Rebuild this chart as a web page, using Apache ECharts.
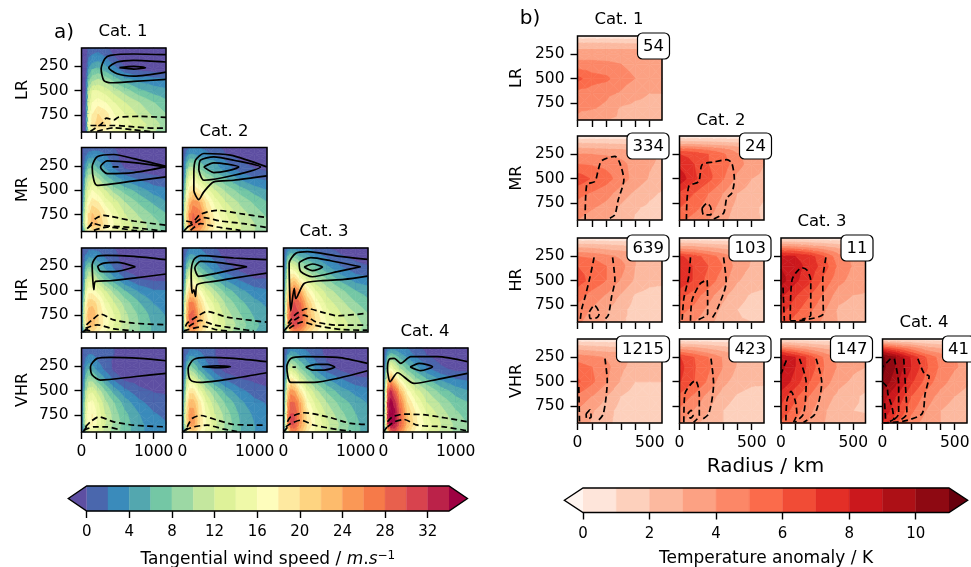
<!DOCTYPE html>
<html><head><meta charset="utf-8">
<script src="https://cdn.jsdelivr.net/npm/echarts@6/dist/echarts.min.js"></script>
<style>html,body{margin:0;padding:0;background:#fff}#c{width:971px;height:567px}</style>
</head><body><div id="c"></div>
<script>
// ---------- axes of the gridded fields ----------
const windRadius=[0,30,60,100,150,230,330,450,600,800,1000,1170];
const windLevelsP=[60,130,200,280,380,500,620,740,850,925];
const tempRadius=[0,100,200,300,400,500,585];
const tempLevelsP=[60,100,150,200,250,350,500,650,800,925];
const rowNames=['LR','MR','HR','VHR'];
const catNames=['Cat. 1','Cat. 2','Cat. 3','Cat. 4'];
// ---------- tangential wind (m/s), rows = pressure, cols = radius ----------
const wLR1=[[-1,-1,-1,.5,1,1,.5,-1,-1,-1,-1,-1],[-1,-1,-1,1.5,2,2.5,1.5,-.2,-2,-2,-2,-2],[-1,-1,-1,2.5,3.5,4,3,1,-1,-2,-2,-2],[-1,-1,-.5,4,6,6.5,5,3,.5,-.5,-1,-1],[-1,-1,0,7,9,10,9,7,4.5,3,2.5,2],[-1,-1,0,11,14,14,13,11,9,6.5,5,4.5],[-1,-1,0,13,16,17,16,14,12,10,8,6.5],[-1,-1,0,15,18,20,19,16,14,11.5,9.5,8],[-1,-1,0,16,19,21,20,17,15,13,11,9],[-1,-1,0,12,16,18,17,15,13,12,10,9]];
const wMR1=[[-1,0,.5,1,1,1.5,1,0,-1,-1,-1,-1],[-1,.5,1.5,2.5,3,2.5,2,.5,-1,-2,-2,-2],[-1,1,3,5,5,4,3,1,-1,-2,-2,-2],[-1,1.5,5,8,8,6,4,2,0,-1,-1,-1],[-.5,2.5,8,11,12,10,7,5,3,1.5,.5,0],[-.5,4,11,14,16,14.5,12,9,7,5,3,2.5],[-.5,6,13,17,19,18,15,13,10,7.5,5.5,4],[-.5,8,15,20,22,21,18,15,12,9.5,7.5,6],[-.5,10,16,21,23,22,19,16,13,11,9,7],[-.5,5,11,16,19,19,17,15,13,11,9,7]];
const wMR2=[[-1,0,1,2,2,2,1.5,.5,-.5,-1,-1,-1],[-1,1,3,4,4,3,2.5,1.5,0,-1,-2,-2],[-1,2,5,7,7,6,4.5,4,2,0,-1,-1],[-1,3,8,11,11,8,6,5,3,1,0,-.5],[-.5,4,11,15,16,13,10,8,6,3.5,2,1.5],[0,7,15,19,20,18,15,12,9.5,7,5,4],[0,10,18,23,25,24,19,15,12,9.5,7.5,6],[0,12,20,26,28,27,21,17,14,11,9,7.5],[0,12,20,27,29,27,22,18,15,12,10,8.5],[0,6,14,21,25,24,20,17,14,12,10,8.5]];
const wHR1=[[-1,0,1,1.5,1.5,1.5,1,0,-1,-1,-1,-1],[-1,1,2,3,3,2.5,1.5,.5,-1,-2,-2,-2],[-1,1.5,4,5.5,5,4,2.5,1,-1,-2,-2,-2],[-1,2,7,9,8.5,6,4,2,-.5,-1.5,-2,-2],[-.5,3,10,13,13,10,7,4.5,2,0,-.5,-.5],[0,5,14,17,17,15,12,9,6,3.5,2.2,2],[0,8,17,21,21,19,15,12,9,6,3.8,3],[0,10,19,23,24,20,17,14,10.5,7.5,5,3.8],[0,10,19,23,23,20,17,14,11,8,5.5,4.5],[0,4,12,18,20,18,16,13,10.5,8,5.5,4.5]];
const wHR2=[[-1,0,1,2,2,2,1,0,-1,-1,-1,-1],[-1,1,2.5,4,4,3,2,1,-1,-2,-2,-2],[-1,1.5,5,7,6.5,4.5,3,2,0,-1.5,-2,-2],[-1,2.5,8,11,10,7,5,3,1,-.5,-1.5,-1.5],[-.5,4,12,16,15,11,8,6,3.5,1.5,0,0],[0,7,17,21,21,17,13,10,7,4.5,2.8,2.2],[0,11,21,26,26,21,16,13,9.5,6.5,4.5,3.5],[0,13,23,28,29,23,18,14.5,11,8,5.5,4.5],[0,13,23,28,28,23,19,15,12,9,6.5,5],[0,6,15,23,24,21,17,14,11,8.5,6,5]];
const wHR3=[[0,1,2,3,3,2.5,2,1,0,-.5,-1,-1],[0,2,5,7,6,5,4,2.5,1,0,-1,-1.5],[0,3,9,11,10,8,6.5,5,3,1,0,-.5],[0,4,12,16,15,11,9,7,5,2.5,1,.5],[0,6,15,20,21,17,13,10,8,5,3,2.5],[0,8,19,25,27,24,18,14,11,8.5,6,5],[0,11,23,28,30,28,22,17,13,10.5,8,6.5],[0,12,25,30,31,30,24,19,15,12,10,8],[0,11,24,29,31,29,24,20,16,13,11,9],[0,5,15,23,26,25,21,18,15,12.5,10.5,9]];
const wVHR1=[[-1,0,.5,1,1,1,.8,0,-1,-1,-1,-1],[-1,.5,1.5,2,2,1.5,1,0,-1,-2,-2,-2],[-1,1,2.5,3.5,3,2,1,-.5,-2,-2,-2,-2],[-1,1.5,4.5,6,5,3,1.5,-.5,-2,-2.5,-2.5,-2.5],[-.5,2.5,7,9,9,6.5,4,1.5,-.5,-1,-1.5,-1.5],[0,4,10,13,13.5,11,8,5,2.5,.5,-.2,-.3],[0,6,12.5,16,16.5,14,10.5,8,5,2.5,1,.5],[0,7,14,17.5,18,15,12,9,6.5,4,2.2,1.5],[0,7,14,18,18,15,12,9.5,7,4.5,3,2.2],[0,3,9,14,14,13,11,9,7,4.5,3,2.2]];
const wVHR2=[[-1,0,.8,1.5,1.5,1.5,1,0,-1,-1,-1,-1],[-1,1,2,3.5,3.5,2.5,1.5,0,-1.5,-2,-2,-2],[-1,1.5,4,6,5.5,3.5,2,.5,-1.5,-2.5,-2.5,-2.5],[-1,2.5,7,9.5,8.5,5.5,3,1,-1,-2,-2.5,-2.5],[-.5,4,11,14,13.5,10,6.5,3.5,1.5,0,-.5,-1],[0,6,15,19,19,15,11,8,5,2.5,1,.5],[0,9,18,23,23,19,14,10.5,7.5,4.5,2.5,1.8],[0,11,20,25,25,20,15.5,12,9,5.5,3.5,2.5],[0,10,20,25,25,20,16,12.5,9.5,6,4,3],[0,5,13,20,21,18,15,12,9.5,6,4,3]];
const wVHR3=[[-.5,.5,1.5,2.5,2.5,2,1.5,.5,-.5,-1,-1,-1],[-.5,1.5,4,5.5,5,3.5,2.5,1,-.5,-1.5,-2,-2],[-.5,2,7,9,8,6,4,2,0,-1.5,-2,-2],[-.5,3,11,13,11.5,8.5,6,3.5,1,-.5,-1.5,-1.5],[0,5,15,19,17.5,13,9.5,6.5,4,2,.5,.2],[0,8,21,25,24,19,14,10.5,7.5,4.8,3.2,2.5],[0,11,24,28,28,24,17,13,10,7,5,3.8],[0,13,26,30,30,25,19,15,11.5,8.5,6,4.5],[0,13,26,30,30,25,20,16,12.5,9.5,6.5,5],[0,6,17,25,26,23,18,15,12,9,6.5,5]];
const wVHR4=[[-.5,.5,2,3,3,2.5,2,.5,-.5,-1,-1,-1],[-.5,2,5,7,6,4.5,3,1.5,0,-1,-1.5,-2],[-.5,3,9,11.5,10,7,5,3,1,-.5,-1.5,-1.5],[-.5,5,14,17,14,10.5,7.5,5,2.5,.5,-.5,-.5],[0,8,21,24,21,16,12,8.5,6,3.5,2,1.5],[0,12,29,32,29,23,17,13,10,7,5,4],[0,15,32,35,33,27,20,16,12,9.5,7,6],[0,16,33,36,35,29,22,18,14,11,8.5,7],[0,14,32,35,34,29,23,18.5,15,12,9.5,8],[0,6,20,28,30,26,21,17,14,11.5,9.5,8]];
// ---------- overlaid contours of panel a ----------
const sLR1=[[[1170,129],[724,122],[401,136],[323,170],[272,273],[309,394],[401,418],[724,404],[1170,383]],[[1170,204],[724,187],[493,204],[378,263],[493,325],[724,349],[1170,308]],[[525,263],[724,249],[885,263],[724,277],[525,263]]];
const dLR1=[[[124,917],[277,841],[346,782],[447,800],[516,772],[816,765],[1170,775]],[[124,858],[240,858],[447,858],[724,872],[1047,886],[1170,886]],[[217,917],[447,882],[724,903],[1000,925]]];
const sMR1=[[[1170,363],[724,404],[217,449],[171,397],[148,260],[217,156],[447,132],[724,174],[1170,253]],[[1170,260],[724,215],[355,198],[263,260],[355,328],[724,318],[1170,260]]];
const dMR1=[[[101,879],[194,793],[309,758],[401,769],[724,817],[1170,861]],[[78,896],[171,844],[263,861],[724,886],[1170,923]],[[171,913],[355,879],[724,913],[862,923]],[[429,260],[539,260]]];
const sMR2=[[[1166,352],[710,397],[433,414],[295,517],[226,597],[157,500],[157,328],[180,191],[295,122],[664,139],[1166,260]],[[226,294],[249,191],[433,156],[710,191],[1079,260],[710,346],[295,397],[226,294]],[[295,260],[433,218],[618,232],[779,260],[618,301],[433,318],[295,260]]];
const dMR2=[[[51,817],[133,827],[249,748],[479,707],[802,741],[1166,782]],[[65,879],[157,844],[295,782],[526,817],[848,844],[1166,885]],[[111,913],[249,844],[479,879],[802,913]],[[20,920],[133,830]]];
const sHR1=[[[1170,180],[724,146],[355,136],[217,146],[148,232],[171,490],[194,404],[401,397],[724,370],[1170,328]],[[747,253],[493,208],[309,215],[226,249],[263,301],[447,304],[747,253]]];
const dHR1=[[[69,851],[148,800],[263,741],[447,800],[724,834],[1170,851]],[[55,886],[217,851],[447,893],[724,913]],[[46,900],[120,912]],[[20,922],[110,880]]];
const sHR2=[[[1166,180],[710,163],[249,139],[157,180],[120,318],[134,524],[157,490],[180,559],[203,438],[433,404],[710,370],[1166,318]],[[894,253],[479,208],[249,198],[171,266],[226,352],[479,318],[894,253]]];
const dHR2=[[[41,868],[65,834],[203,765],[341,714],[618,772],[1166,824]],[[88,868],[249,806],[433,851],[802,896],[986,913]],[[18,913],[295,868],[479,903],[618,913]]];
const sHR3=[[[1162,177],[747,143],[332,98],[171,115],[78,218],[101,707],[148,476],[171,579],[286,425],[516,397],[839,383],[1162,349]],[[1070,253],[655,191],[378,160],[217,218],[240,304],[401,356],[747,304],[1070,253]],[[286,256],[401,225],[539,256],[401,294],[286,256]]];
const dHR3=[[[65,837],[171,741],[332,683],[516,717],[747,758],[1139,734]],[[55,872],[148,803],[286,751],[447,820],[747,855],[1162,855]],[[78,889],[263,820],[424,855],[793,899],[1162,906]],[[0,920],[101,835]]];
const sVHR1=[[[1170,191],[816,167],[401,156],[217,167],[124,253],[148,339],[263,390],[724,356],[1170,321]]];
const dVHR1=[[[55,872],[124,820],[240,769],[447,820],[724,855],[1170,872]],[[32,906],[171,872],[355,872],[539,906]],[[25,922],[70,870]]];
const sVHR2=[[[1166,201],[710,167],[341,156],[157,177],[78,270],[111,390],[249,414],[710,373],[1166,315]],[[272,253],[479,243],[664,253],[479,263],[272,253]]];
const dVHR2=[[[65,872],[134,786],[249,755],[479,803],[710,848],[1125,855]],[[41,906],[157,872],[341,855],[572,896],[756,920]],[[10,922],[110,860]]];
const sVHR3=[[[1162,218],[747,156],[286,149],[101,167],[46,253],[101,414],[424,414],[747,373],[1162,294]],[[309,256],[447,229],[608,229],[710,256],[562,287],[401,287],[309,256]],[[124,256],[171,256]]];
const dVHR3=[[[55,820],[101,769],[286,727],[608,769],[931,837],[1162,848]],[[32,872],[101,837],[240,803],[424,855],[747,899],[931,916]],[[0,925],[78,855]]];
const sVHR4=[[[1162,201],[747,149],[378,149],[240,218],[148,167],[78,177],[55,270],[92,407],[194,315],[424,425],[747,383],[1162,321]],[[369,256],[493,218],[678,253],[516,294],[369,256]]];
const dVHR4=[[[55,820],[124,769],[286,741],[608,751],[1162,820]],[[55,872],[148,820],[286,796],[470,855],[839,872],[1162,913]],[[0,925],[78,845]]];
// ---------- temperature anomaly (K) ----------
const tLR1=[[.2,.2,.2,.2,.2,.2,.2],[1.3,1.3,1.3,1.2,1.2,1.2,1.2],[2.4,2.4,2.4,2.3,2.2,2.2,2.2],[3,3,3,3,3,2.9,2.9],[3.4,3.4,3.3,3.3,3.1,3,3],[4.4,4.4,4.3,4,3.7,3.3,3.2],[6.3,5.4,5.2,4.4,4,3.3,3.2],[4.6,4.5,4.2,3.9,3.3,3,3],[4.2,4.1,3.8,2.9,2.7,2.7,2.7],[3.8,3.2,3,2.8,2.6,2.5,2.5]];
const tMR1=[[.2,.2,.2,.2,.2,.2,.2],[1.2,1.2,1.2,1.1,1.1,1,1],[2.4,2.3,2.2,2.1,2,2,2],[3.3,3.2,3.1,3,2.9,2.9,2.9],[4.1,4,3.9,3.7,3.3,3.1,3],[5,4.9,4.7,4.3,3.6,3.1,2.8],[6.6,5.9,5.4,4.5,3.6,2.9,2.5],[5.3,4.9,4.4,3.5,2.8,2.2,1.9],[4.6,4.1,3.6,2.8,2.1,1.8,1.6],[4,3.4,3,2.5,1.9,1.7,1.6]];
const tMR2=[[.2,.2,.2,.2,.2,.2,.2],[1.5,1.4,1.4,1.3,1.2,1.2,1.2],[3.2,3.1,2.9,2.7,2.5,2.3,2.3],[5.5,5.2,4.8,4.3,3.6,3.1,3],[7,6.7,6,5.2,4.1,3.5,3.3],[7.7,7,6,5.5,4.4,3.5,3],[8.7,7.2,6.3,5.1,3.7,3,2.8],[6.8,6,5,4,3,2.6,2.2],[6,5.3,4.5,3.5,2.7,2.3,1.8],[5.2,4.6,4,3.2,2.6,2.2,1.9]];
const tHR1=[[.2,.2,.2,.2,.2,.2,.2],[1.3,1.3,1.2,1.1,1,1,1],[2.8,2.7,2.5,2.3,2.1,2,2],[3.8,3.6,3.3,3.1,2.9,2.8,2.8],[5,4.8,4.3,3.8,3,2.9,2.8],[6,5.7,5,4.4,3,2.8,2.6],[6.4,5.7,5,3.9,2.8,2.3,2.2],[5.5,4.6,3.9,2.9,1.9,1.6,1.6],[4.6,3.9,3.1,2.3,1.6,1.3,1.3],[4.2,3.5,2.9,2.1,1.8,1.7,1.7]];
const tHR2=[[.2,.2,.2,.2,.2,.2,.2],[1.6,1.5,1.3,1.2,1.1,1.1,1.1],[3.2,3,2.8,2.5,2.2,2.1,2.1],[5,4.6,4,3.5,3,2.9,2.9],[7.2,6.5,5.5,4.6,3.4,3,3],[7.8,6.9,6,5,3.5,2.9,2.8],[7.7,6.9,5.6,4.4,3.1,2.5,2.4],[6.4,5.5,4.4,3.3,2.3,1.9,1.7],[5.4,4.7,3.7,2.7,2,1.7,1.1],[4.7,4,3.3,2.5,2.1,2,2]];
const tHR3=[[.3,.3,.3,.3,.3,.3,.3],[2,1.9,1.7,1.5,1.3,1.3,1.3],[4.2,3.9,3.5,3,2.6,2.4,2.4],[6.6,6.2,5.6,4.6,3.6,3.2,3.2],[8.3,8,7.5,6,4.3,3.8,3.7],[8.9,8.4,7.6,6.5,4.7,3.9,3.7],[9.4,8.2,7.2,5.6,4.3,3.6,3.4],[8.2,7.1,6,4.8,3.4,3,2.9],[7.4,6.3,5.2,4.1,2.8,2.5,2.5],[6.5,5.5,4.6,3.7,2.9,2.7,2.7]];
const tVHR1=[[.2,.2,.2,.2,.2,.2,.2],[1.3,1.2,1.1,1,1,1,1],[2.6,2.4,2.2,2.1,2,2,2],[3.5,3.3,3.1,3,2.9,2.8,2.8],[4.6,4.3,3.9,3.2,2.9,2.7,2.7],[5.4,5,4.3,3.2,2.6,2.4,2.3],[6.2,5.2,4.1,2.9,2,2,2],[4.8,4,3,2,1.5,1.3,1.3],[3.9,3.1,2.4,1.6,1.2,1.1,1.1],[3.5,2.9,2.2,1.7,1.7,1.7,1.7]];
const tVHR2=[[.2,.2,.2,.2,.2,.2,.2],[1.6,1.4,1.3,1.1,1,1,1],[3.4,3.1,2.7,2.3,2.1,2,2],[5.2,4.5,3.8,3.2,2.9,2.8,2.8],[7.1,6,5,3.9,3,2.9,2.8],[7.4,6.1,5.2,4,2.9,2.7,2.6],[7.1,6,4.8,3.3,2.5,2.2,2.2],[5.7,4.8,3.6,2.5,1.9,1.6,1.4],[4.8,3.9,3,2,1.5,1.2,1.1],[4.1,3.2,2.6,2,1.8,1.7,1.7]];
const tVHR3=[[.3,.3,.3,.3,.3,.3,.3],[2.2,1.9,1.6,1.4,1.3,1.3,1.3],[4.5,3.8,3.2,2.7,2.4,2.3,2.3],[7.2,6,4.8,3.8,3.2,3.1,3],[9,8,6.6,4.8,3.7,3.3,3.2],[9.3,8,6.6,5,3.8,3.2,3],[8.9,7.5,6,4.5,3.3,2.8,2.5],[7.4,6.2,4.9,3.5,2.7,2.2,1.8],[6.7,5.5,4.2,3.1,2.3,2,1.9],[5.8,4.7,3.8,3,2.5,2.4,2.4]];
const tVHR4=[[.4,.4,.4,.4,.4,.4,.4],[3.1,2.6,2.1,1.7,1.5,1.5,1.5],[6.5,5.3,4.3,3.3,2.8,2.7,2.6],[9.2,7.8,6,4.5,3.8,3.6,3.5],[11.2,9.9,7.8,6,4.6,4,3.8],[11.3,9.8,8,6.2,4.8,4.1,3.7],[10.8,9.2,7.2,5.6,4.4,3.6,3.2],[9.5,7.9,6,4.6,3.6,3,2.6],[9,7,5.2,4,3,2.5,2.4],[7.8,6,4.5,3.5,3,2.7,2.7]];
// ---------- dashed contours of panel b ----------
const eMR1=[[[53,923],[64,562],[121,528],[144,407],[167,315],[259,270],[293,339],[321,511],[282,717],[259,872],[224,906]]];
const eMR2=[[[48,923],[64,579],[133,528],[156,356],[236,328],[327,304],[362,339],[380,511],[362,648],[327,700],[305,855],[224,923]],[[156,803],[190,751],[218,803],[218,872],[167,872],[156,803]]];
const eHR1=[[[115,260],[87,459],[53,665],[30,786],[18,913]],[[243,260],[259,493],[236,665],[213,855],[179,913]],[[82,820],[117,751],[151,837],[133,882],[87,889],[82,820]]];
const eHR2=[[[76,260],[64,459],[30,683],[18,913]],[[305,260],[323,511],[259,803],[224,889]],[[76,913],[87,700],[144,528],[190,493],[195,837],[110,913]]];
const eHR3=[[[14,569],[23,913]],[[311,260],[289,493],[293,837],[156,906],[64,913]],[[64,906],[76,493],[144,366],[179,390],[206,493],[206,855],[144,899]]];
const eVHR1=[[[9,555],[14,927]],[[190,263],[206,487],[179,831],[133,917]],[[60,831],[87,789],[94,865],[64,882],[60,831]]];
const eVHR2=[[[218,263],[236,521],[202,831],[144,899]],[[30,917],[37,624],[110,487],[137,624],[137,848],[98,917]],[[57,831],[80,796],[94,848],[76,875],[57,831]]];
const eVHR3=[[[243,263],[282,504],[236,831],[156,917]],[[128,263],[174,504],[156,831],[98,917]],[[37,280],[0,418]],[[34,900],[41,693],[69,600],[98,693],[110,831],[87,917]]];
const eVHR4=[[[245,263],[289,418],[323,442],[295,624],[273,831],[147,906],[9,923]],[[147,263],[158,521],[169,831],[112,906]],[[82,263],[112,521],[112,831],[66,906]],[[55,263],[0,349]],[[0,504],[32,555],[37,624],[66,762],[78,882],[40,915]],[[21,882],[14,700]]];
const sampleCounts=[54,334,24,639,103,11,1215,423,147,41];
// ---------- colour scales ----------
const windLevels=[0,2,4,6,8,10,12,14,16,18,20,22,24,26,28,30,32,34];
const windColors=['#5e4fa2','#4a67ad','#3a8bbb','#53a7af','#74c7a5','#9cd8a4','#c4e79e','#def299','#eff9a8','#fefdbc','#fee9a0','#fed481','#fdbb6c','#fa9856','#f67a49','#e8604d','#d8434e','#bb2249','#9e0142'];
const tempLevels=[0,1,2,3,4,5,6,7,8,9,10,11];
const tempColors=['#fff5f0','#fee5da','#fdd0bc','#fcb99f','#fca183','#fc8767','#fb6b4b','#f14c36','#e32f27','#cb181d','#ad1016','#8e0912','#67000d'];
const windTicks=[0,4,8,12,16,20,24,28,32];
const tempTicks=[0,2,4,6,8,10];

// ---------- layout ----------
const AX=[81.5,182.5,283.5,383.5], AY=[48,147.5,248,348];
const BX=[577.5,679.5,781,882.5], BY=[36,136,238,339];
const PW=84.5, PH=84;
const Y0=60, Y1=925;
const FONT='"DejaVu Sans"';
const plain=v=>String(v);

function bandIndex(v,lv){let k=0;while(k<lv.length&&v>=lv[k])k++;return k;}
function clipTri(p,L){const out=[];for(let i=0;i<p.length;i++){const a=p[i],b=p[(i+1)%p.length];
  const ia=a[2]>=L,ib=b[2]>=L; if(ia)out.push(a);
  if(ia!==ib){const t=(L-a[2])/(b[2]-a[2]);out.push([a[0]+t*(b[0]-a[0]),a[1]+t*(b[1]-a[1]),L]);}}
  return out;}
function contourCell(lv,cols){return function(params,api){
  const x0=api.value(0),x1=api.value(1),y0=api.value(2),y1=api.value(3);
  const a=api.coord([x0,y0]),b=api.coord([x1,y0]),c=api.coord([x1,y1]),d=api.coord([x0,y1]);
  const va=api.value(4),vb=api.value(5),vc=api.value(6),vd=api.value(7);
  const m=[(a[0]+c[0])/2,(a[1]+c[1])/2,(va+vb+vc+vd)/4];
  const P=[[a[0],a[1],va],[b[0],b[1],vb],[c[0],c[1],vc],[d[0],d[1],vd]];
  const ch=[];
  for(let i=0;i<4;i++){const tri=[P[i],P[(i+1)%4],m];
    const vmin=Math.min(tri[0][2],tri[1][2],tri[2][2]),vmax=Math.max(tri[0][2],tri[1][2],tri[2][2]);
    const k0=bandIndex(vmin,lv);
    const push=(poly,col)=>{if(poly.length>2)ch.push({type:'polygon',silent:true,shape:{points:poly.map(q=>[q[0],q[1]])},style:{fill:col,stroke:col,lineWidth:.6}});};
    push(tri,cols[k0]);
    for(let k=k0;k<lv.length&&lv[k]<=vmax;k++)push(clipTri(tri,lv[k]),cols[k+1]);
  }
  return {type:'group',children:ch};
};}
function cellsOf(xs,ys,g){const out=[];for(let j=0;j<ys.length-1;j++)for(let i=0;i<xs.length-1;i++)
  out.push([xs[i],xs[i+1],ys[j],ys[j+1],g[j][i],g[j][i+1],g[j+1][i+1],g[j+1][i]]);return out;}

const grid=[],xAxis=[],yAxis=[],series=[],title=[];
function txt(text,cx,cy,size){title.push({text:text,left:cx,top:cy-size*0.6,textAlign:'center',padding:0,itemGap:0,
  textStyle:{fontFamily:FONT,fontWeight:'normal',fontSize:size,color:'#000',lineHeight:size*1.2}});}

function addPanel(o){
  const idx=grid.length;
  grid.push({left:o.x,top:o.y,width:PW,height:PH,show:false,outerBoundsMode:'none'});
  xAxis.push({gridIndex:idx,type:'value',min:0,max:o.xmax,position:'bottom',
    axisLine:{show:false},splitLine:{show:false},
    axisTick:{show:true,length:7,inside:false,lineStyle:{color:'#000',width:1.4},customValues:o.xTicks},
    axisLabel:{show:o.xLab,margin:12,customValues:o.xLabels,formatter:plain,fontFamily:FONT,fontSize:15.5,color:'#000',hideOverlap:false}});
  yAxis.push({gridIndex:idx,type:'value',min:Y0,max:Y1,inverse:true,position:'left',
    name:o.rowName||'',nameLocation:'middle',nameGap:o.nameGap,nameRotate:90,
    nameTextStyle:{fontFamily:FONT,fontSize:16,color:'#000'},
    axisLine:{show:false},splitLine:{show:false},
    axisTick:{show:true,length:7,lineStyle:{color:'#000',width:1.4},customValues:[250,500,750]},
    axisLabel:{show:o.yLab,margin:13,customValues:[250,500,750],formatter:plain,fontFamily:FONT,fontSize:15.5,color:'#000'}});
  series.push({type:'custom',xAxisIndex:idx,yAxisIndex:idx,z:2,silent:true,clip:false,
    encode:{x:[0,1],y:[2,3]},data:cellsOf(o.xs,o.ys,o.g),renderItem:contourCell(o.lv,o.cols)});
  (o.solid||[]).forEach(l=>series.push({type:'line',xAxisIndex:idx,yAxisIndex:idx,z:3,silent:true,data:l,showSymbol:false,smooth:.25,
    lineStyle:{color:'#000',width:1.7,type:'solid'}}));
  (o.dashed||[]).forEach(l=>series.push({type:'line',xAxisIndex:idx,yAxisIndex:idx,z:3,silent:true,data:l,showSymbol:false,smooth:.25,
    lineStyle:{color:'#000',width:1.7,type:[6,3.5]}}));
  series.push({type:'custom',xAxisIndex:idx,yAxisIndex:idx,z:4,silent:true,clip:false,encode:{x:[0,1],y:[2,3]},
    data:[[0,o.xmax,Y0,Y1]],renderItem:(p,api)=>{const a=api.coord([api.value(0),api.value(2)]),b=api.coord([api.value(1),api.value(3)]);
      return {type:'rect',silent:true,shape:{x:a[0],y:a[1],width:b[0]-a[0],height:b[1]-a[1]},style:{fill:'none',stroke:'#000',lineWidth:1.5}};}});
}
const windPanels=[[0,0,wLR1,sLR1,dLR1],[1,0,wMR1,sMR1,dMR1],[1,1,wMR2,sMR2,dMR2],[2,0,wHR1,sHR1,dHR1],[2,1,wHR2,sHR2,dHR2],[2,2,wHR3,sHR3,dHR3],[3,0,wVHR1,sVHR1,dVHR1],[3,1,wVHR2,sVHR2,dVHR2],[3,2,wVHR3,sVHR3,dVHR3],[3,3,wVHR4,sVHR4,dVHR4]];
const tempPanels=[[0,0,tLR1,[]],[1,0,tMR1,eMR1],[1,1,tMR2,eMR2],[2,0,tHR1,eHR1],[2,1,tHR2,eHR2],[2,2,tHR3,eHR3],[3,0,tVHR1,eVHR1],[3,1,tVHR2,eVHR2],[3,2,tVHR3,eVHR3],[3,3,tVHR4,eVHR4]];
windPanels.forEach(p=>addPanel({x:AX[p[1]],y:AY[p[0]],xmax:1170,xTicks:[0,200,400,600,800,1000],xLabels:[0,1000],xLab:p[0]===3,yLab:p[1]===0,nameGap:51,
  rowName:p[1]===0?rowNames[p[0]]:'',xs:windRadius,ys:windLevelsP,g:p[2],lv:windLevels,cols:windColors,solid:p[3],dashed:p[4]}));
tempPanels.forEach((p,i)=>{addPanel({x:BX[p[1]],y:BY[p[0]],xmax:585,xTicks:[0,100,200,300,400,500],xLabels:[0,500],xLab:p[0]===3,yLab:p[1]===0,nameGap:53,
  rowName:p[1]===0?rowNames[p[0]]:'',xs:tempRadius,ys:tempLevelsP,g:p[2],lv:tempLevels,cols:tempColors,dashed:p[3]});
  const s=String(sampleCounts[i]),w=s.length*10.5+11,right=BX[p[1]]+PW+7.5;
  title.push({text:s,left:right-w,top:BY[p[0]]-3.5,padding:[5,5.5,4,5.5],backgroundColor:'#fff',borderColor:'#000',borderWidth:1.2,borderRadius:5,z:8,
    textStyle:{fontFamily:FONT,fontWeight:'normal',fontSize:16.5,color:'#000',lineHeight:18}});
});
// ---------- colour bars ----------
function addBar(o){
  const idx=grid.length;
  grid.push({left:o.x0,top:o.y0,width:o.x1-o.x0,height:o.y1-o.y0,show:false,outerBoundsMode:'none'});
  xAxis.push({gridIndex:idx,type:'value',min:o.min,max:o.max,position:'bottom',
    name:o.name,nameLocation:'middle',nameGap:o.gap,nameTextStyle:o.nameStyle,
    axisLine:{show:false},splitLine:{show:false},
    axisTick:{show:true,length:7,lineStyle:{color:'#000',width:1.4},customValues:o.ticks},
    axisLabel:{margin:14,customValues:o.ticks,formatter:plain,fontFamily:FONT,fontSize:15,color:'#000'}});
  yAxis.push({gridIndex:idx,type:'value',min:0,max:1,show:false});
  const d=[];for(let i=0;i<o.lv.length-1;i++)d.push([o.lv[i],o.lv[i+1],i+1]);
  series.push({type:'custom',xAxisIndex:idx,yAxisIndex:idx,z:2,silent:true,clip:false,encode:{x:[0,1]},data:d,
    renderItem:(p,api)=>{const a=api.coord([api.value(0),1]),b=api.coord([api.value(1),0]);const c=o.cols[api.value(2)];
      return {type:'rect',silent:true,shape:{x:a[0],y:a[1],width:b[0]-a[0],height:b[1]-a[1]},style:{fill:c,stroke:c,lineWidth:.4}};}});
  const poly=[[o.min-o.tip,.5],[o.min,1],[o.max,1],[o.max+o.tip,.5],[o.max,0],[o.min,0]];
  const tipRow=[[o.min-o.tip,o.min,0],[o.max+o.tip,o.max,o.cols.length-1]];
  series.push({type:'custom',xAxisIndex:idx,yAxisIndex:idx,z:2,silent:true,clip:false,encode:{x:[0,1]},data:tipRow,
    renderItem:(p,api)=>{const t=api.coord([api.value(0),.5]),u=api.coord([api.value(1),1]),l=api.coord([api.value(1),0]);
      return {type:'polygon',silent:true,shape:{points:[t,u,l]},style:{fill:o.cols[api.value(2)]}};}});
  series.push({type:'custom',xAxisIndex:idx,yAxisIndex:idx,z:3,silent:true,clip:false,encode:{x:0,y:1},data:[poly[0]],
    renderItem:(p,api)=>({type:'polygon',silent:true,shape:{points:poly.map(q=>api.coord(q))},style:{fill:'none',stroke:'#000',lineWidth:1.4}})});
}
addBar({x0:86.7,x1:449,y0:486,y1:511,min:0,max:34,tip:1.73,lv:windLevels,cols:windColors,ticks:windTicks,gap:39,
  name:'{t|Tangential wind speed / }{i|m}{t|.}{i|s}{u|−1}',
  nameStyle:{fontFamily:FONT,fontSize:17,color:'#000',rich:{t:{fontFamily:FONT,fontSize:17,color:'#000'},i:{fontFamily:FONT,fontStyle:'italic',fontSize:17,color:'#000'},u:{fontFamily:FONT,fontSize:12,color:'#000',padding:[0,0,8,0]}}}});
addBar({x0:583,x1:949,y0:488,y1:512.5,min:0,max:11,tip:.56,lv:tempLevels,cols:tempColors,ticks:tempTicks,gap:38,
  name:'Temperature anomaly / K',nameStyle:{fontFamily:FONT,fontSize:17,color:'#000'}});
// ---------- free text ----------
[[0,123,32],[1,224,132],[2,324,232],[3,425,332]].forEach(c=>txt(catNames[c[0]],c[1],c[2],16.5));
[[0,619,20],[1,721,121],[2,822,222],[3,924,323]].forEach(c=>txt(catNames[c[0]],c[1],c[2],16.5));
txt('a)',64,33,20);txt('b)',530,19,20);txt('Radius / km',765.5,467,20);

const chart=echarts.init(document.getElementById('c'),null,{renderer:'canvas'});
chart.setOption({animation:false,backgroundColor:'#fff',title,grid,xAxis,yAxis,series,tooltip:{show:false}});
</script></body></html>
